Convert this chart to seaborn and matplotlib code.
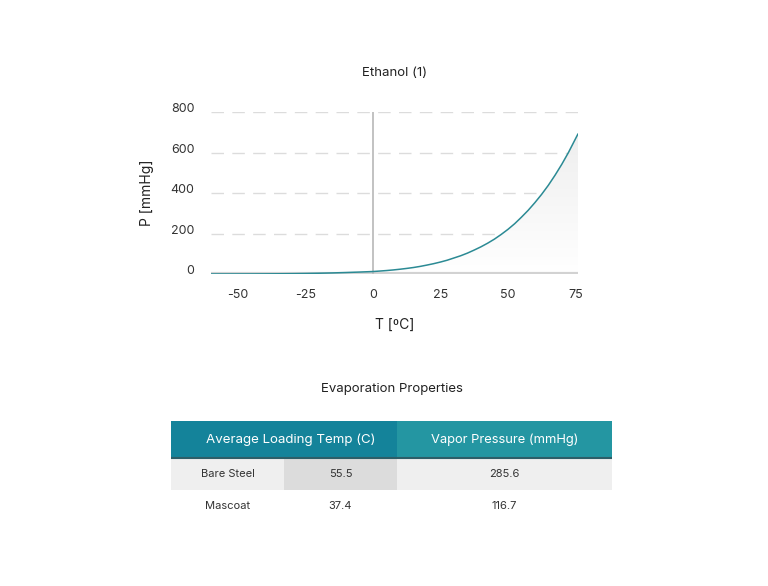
import numpy as np
import pandas as pd
import matplotlib
matplotlib.use("Agg")
import matplotlib.pyplot as plt
import seaborn as sns
from matplotlib.colors import LinearSegmentedColormap
from matplotlib.patches import Rectangle

# Vapor pressure curve
temps = [-60, -55, -50, -45, -40, -35, -30, -25, -20, -15, -10, -5, 0, 2.5, 5,
         7.5, 10, 12.5, 15, 17.5, 20, 22.5, 25, 27.5, 30, 32.5, 35, 37.5, 40,
         42.5, 45, 47.5, 50, 52.5, 55, 57.5, 60, 62.5, 65, 67.5, 70, 72.5, 75, 76]
pressures = [0.1, 0.15, 0.25, 0.4, 0.7, 1.1, 1.7, 2.6, 3.8, 5.3, 7.3, 9.6, 12.2,
             14.5, 17, 20, 23.5, 27.5, 32, 37.5, 44, 51, 59, 68, 79, 90, 103,
             118, 134, 152, 172, 195, 220, 248, 280, 314, 352, 393, 438, 488,
             542, 601, 666, 692]

x_ticks = [-50, -25, 0, 25, 50, 75]
y_ticks = [0, 200, 400, 600, 800]

# Table contents
table_title = "Evaporation Properties"
header_labels = ["Average Loading Temp (C)", "Vapor Pressure (mmHg)"]
row_names = ["Bare Steel", "Mascoat"]
loading_temps = ["55.5", "37.4"]
vapor_pressures = ["285.6", "116.7"]

df = pd.DataFrame({"T": temps, "P": pressures})

sns.set_theme(style="white")
plt.rcParams['font.family'] = ['Inter', 'DejaVu Sans']
plt.rcParams['axes.unicode_minus'] = False

fig = plt.figure(figsize=(7.68, 5.86), dpi=100)
fig.patch.set_facecolor("white")

W, H = 768, 586
ax = fig.add_axes([211 / W, 1 - 274 / H, 367 / W, 162 / H])

# gradient fill under curve
grad = np.linspace(0, 1, 256).reshape(-1, 1)
cmap = LinearSegmentedColormap.from_list("g", ["#ffffff", "#ececec"])
im = ax.imshow(grad, extent=[-60, 76, 0, 800], origin="lower", aspect="auto",
               cmap=cmap, zorder=1)
poly = ax.fill_between(df["T"], 0, df["P"], color="none", lw=0)
im.set_clip_path(poly.get_paths()[0], transform=ax.transData)

for yv in y_ticks[1:]:
    ax.axhline(yv, color="#dcdcdc", lw=1, dashes=(9, 6), zorder=0)
ax.axhline(0, color="#d2d2d2", lw=3, zorder=2)
ax.plot([0, 0], [0, 800], color="#bdbdbd", lw=1.3, zorder=2)

sns.lineplot(data=df, x="T", y="P", ax=ax, color="#2b8a94", lw=1.1, zorder=3)

ax.set_xlim(-60, 76)
ax.set_ylim(0, 800)
ax.set_xticks(x_ticks)
ax.set_yticks(y_ticks)
ax.tick_params(axis="x", length=0, pad=11, labelsize=9, labelcolor="#333333")
ax.tick_params(axis="y", length=0, pad=12, labelsize=9, labelcolor="#333333")
for lbl in ax.get_yticklabels():
    lbl.set_verticalalignment("baseline")
for s in ax.spines.values():
    s.set_visible(False)
ax.set_xlabel("T [ºC]", fontsize=10, color="#222222", labelpad=12)
ax.set_ylabel("P [mmHg]", fontsize=10, color="#222222", labelpad=12)
ax.set_title("Ethanol (1)", fontsize=9.5, color="#222222", pad=26)

# Table
fig.text(392 / W, 1 - 389 / H, table_title, ha="center", va="center",
         fontsize=9.5, color="#222222")

tax = fig.add_axes([171 / W, 1 - 522 / H, 441 / W, 101 / H])
tax.set_xlim(171, 612)
tax.set_ylim(522, 421)
tax.axis("off")

cols = [171, 284, 397, 612]
rows = [421, 458, 490, 522]

tax.add_patch(Rectangle((cols[0], rows[0]), cols[2] - cols[0], rows[1] - rows[0],
                        color="#14839a", lw=0))
tax.add_patch(Rectangle((cols[2], rows[0]), cols[3] - cols[2], rows[1] - rows[0],
                        color="#2496a2", lw=0))
tax.plot([cols[0], cols[3]], [rows[1], rows[1]], color="#2d5e68", lw=1.5)
tax.add_patch(Rectangle((cols[0], rows[1]), cols[3] - cols[0], rows[2] - rows[1],
                        color="#efefef", lw=0, zorder=0))
tax.add_patch(Rectangle((cols[1], rows[1]), cols[2] - cols[1], rows[2] - rows[1],
                        color="#dcdcdc", lw=0, zorder=0))

tax.text((cols[0] + cols[2]) / 2 + 7, (rows[0] + rows[1]) / 2, header_labels[0],
         ha="center", va="center", color="white", fontsize=9.6)
tax.text((cols[2] + cols[3]) / 2, (rows[0] + rows[1]) / 2, header_labels[1],
         ha="center", va="center", color="white", fontsize=9.3)

for i, (name, t, p) in enumerate(zip(row_names, loading_temps, vapor_pressures)):
    yc = (rows[i + 1] + rows[i + 2]) / 2
    tax.text((cols[0] + cols[1]) / 2, yc, name, ha="center", va="center",
             fontsize=8, color="#333333")
    tax.text((cols[1] + cols[2]) / 2, yc, t, ha="center", va="center",
             fontsize=8, color="#333333")
    tax.text((cols[2] + cols[3]) / 2, yc, p, ha="center", va="center",
             fontsize=8, color="#333333")

fig.savefig("out.png", dpi=100, facecolor="white")
